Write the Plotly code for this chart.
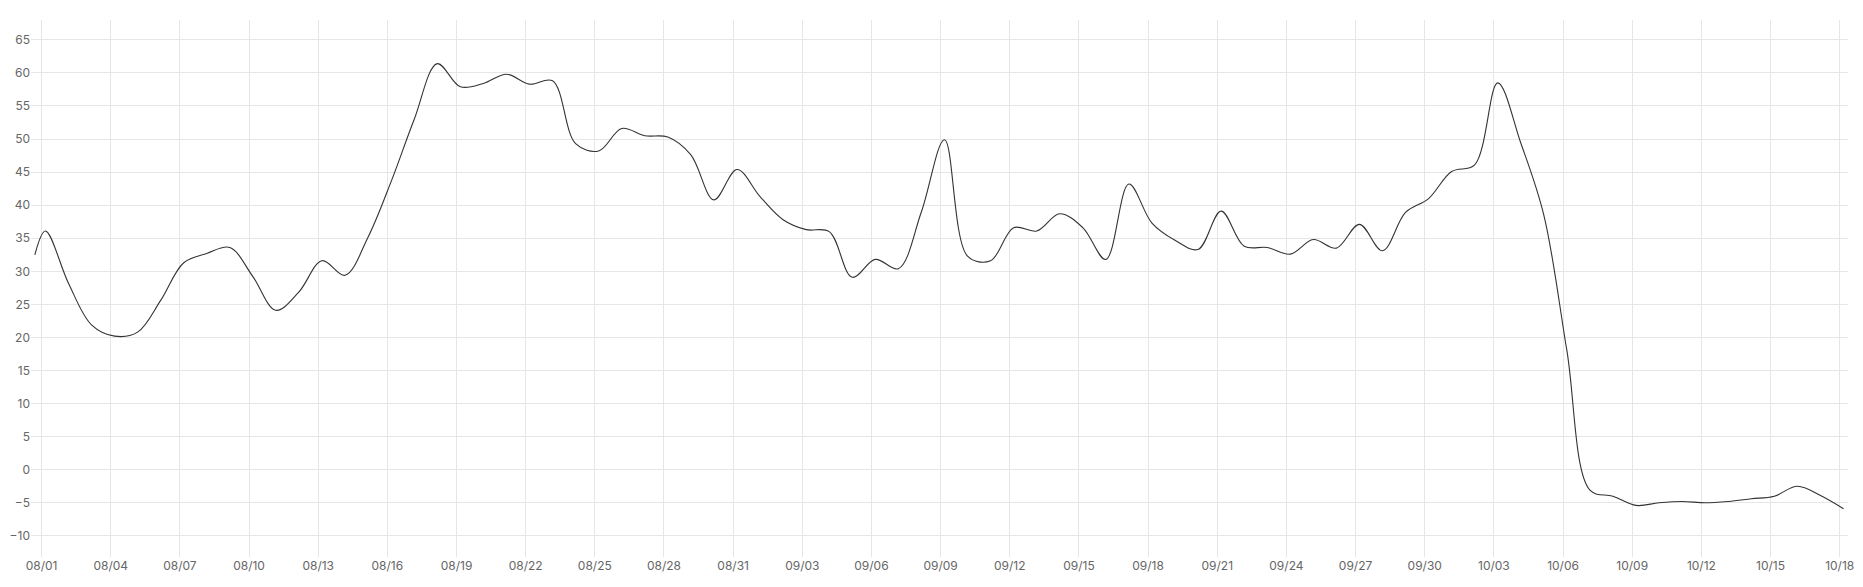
import plotly.graph_objects as go

# daily samples (first point is the evening before 08/01)
dates = ["2023-07-31 17:00"] + [
    "2023-08-%02d 04:00" % d for d in range(1, 32)
] + [
    "2023-09-%02d 04:00" % d for d in range(1, 31)
] + [
    "2023-10-%02d 04:00" % d for d in range(1, 19)
]

values = [
    32.5,
    36.1, 28.2, 21.9, 20.2, 20.8, 25.6, 31.3, 32.7, 33.6, 29.2,
    24.1, 26.9, 31.6, 29.4, 35.2, 43.6, 53.0, 61.4, 57.9, 58.4,
    59.8, 58.3, 58.8, 49.3, 48.2, 51.6, 50.5, 50.3, 47.6, 40.8,
    45.4,
    41.3, 37.8, 36.3, 36.0, 29.1, 31.8, 30.4, 39.0, 49.9, 32.3,
    31.6, 36.6, 36.1, 38.7, 36.6, 31.8, 43.2, 37.3, 34.7, 33.3,
    39.1, 33.8, 33.6, 32.6, 34.8, 33.5, 37.1, 33.1, 38.9, 41.0,
    45.1, 46.1, 58.5, 49.4, 38.5, 18.0, -3.1, -4.0, -5.4, -5.0,
    -4.8, -5.0, -4.8, -4.4, -4.0, -2.5, -3.9, -5.9,
]

fig = go.Figure()
fig.add_trace(go.Scatter(
    x=dates, y=values, mode="lines",
    line=dict(color="#333333", width=1.1, shape="spline", smoothing=1),
    name="Average response time",
    showlegend=False,
))

grid = "#e6e6e6"
# page body adds 8px, so the figure is a bit smaller than the window
fig.update_layout(
    width=1855, height=579,
    margin=dict(l=23, r=15, t=12, b=30),
    paper_bgcolor="white", plot_bgcolor="white",
    font=dict(family="Inter", size=12, color="#666666"),
    xaxis=dict(
        type="date",
        range=["2023-07-31 13:00", "2023-10-18 08:40"],
        tick0="2023-08-01", dtick=3 * 86400000, tickformat="%m/%d",
        showgrid=True, gridcolor=grid, gridwidth=1,
        showline=False, zeroline=False, ticks="", automargin=False,
    ),
    yaxis=dict(
        range=[-13.2, 68],
        tick0=0, dtick=5,
        showgrid=True, gridcolor=grid, gridwidth=1,
        showline=False, zeroline=False, ticks="", automargin=False,
    ),
)

fig.write_html("out.html")
